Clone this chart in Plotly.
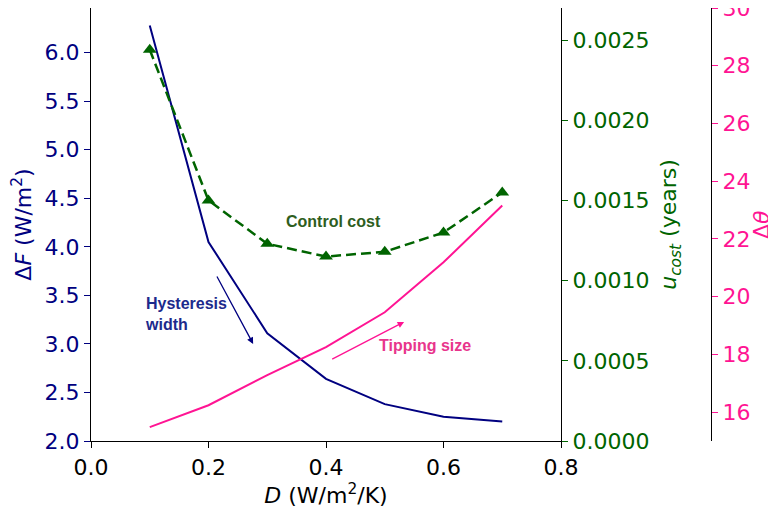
import plotly.graph_objects as go

# coupling strength D (W/m^2/K)
D = [0.1, 0.2, 0.3, 0.4, 0.5, 0.6, 0.7]
# hysteresis width dF (W/m^2)
hysteresis_width = [6.28, 4.05, 3.11, 2.64, 2.38, 2.25, 2.20]
# control cost u_cost (years)
control_cost = [0.00244, 0.00150, 0.00123, 0.00115, 0.00118, 0.00130, 0.00155]
# tipping size dtheta
tipping_size = [15.48, 16.24, 17.28, 18.25, 19.46, 21.19, 23.16]

NAVY = "#000080"
GREEN = "#006400"
PINK = "#ff1493"
FONT = "DejaVu Sans"
FS = 22

# page body has an 8px margin, so the figure is drawn 8px in from the corner
W, H = 768, 503
left, right_main, right_pink = 83, 553, 703
top, bottom = 0, 433
dom_end = (right_main - left) / (right_pink - left)

fig = go.Figure()
fig.add_trace(go.Scatter(x=D, y=hysteresis_width, mode="lines",
                         line=dict(color=NAVY, width=2), yaxis="y"))
fig.add_trace(go.Scatter(x=D, y=control_cost, mode="lines+markers",
                         line=dict(color=GREEN, width=2.5, dash="10px,5px"),
                         marker=dict(symbol="triangle-up", size=12, color=GREEN),
                         yaxis="y2"))
fig.add_trace(go.Scatter(x=D, y=tipping_size, mode="lines",
                         line=dict(color=PINK, width=2), yaxis="y3"))

tick = dict(ticks="outside", ticklen=6, tickwidth=1.3, showgrid=False,
            zeroline=False, showline=True, linewidth=1.3, automargin=False,
            ticklabeloverflow="allow")

fig.update_layout(
    width=W, height=H,
    margin=dict(l=left, r=W - right_pink, t=top, b=H - bottom, pad=0),
    plot_bgcolor="white", paper_bgcolor="white",
    showlegend=False,
    font=dict(family=FONT, size=FS, color="black"),
    xaxis=dict(domain=[0, dom_end], range=[0, 0.8], dtick=0.2, tickformat=".1f",
               mirror=True, linecolor="black", tickcolor="black",
               title=dict(text="<i>D</i> (W/m<sup>2</sup>/K)", standoff=8,
                          font=dict(size=FS)),
               **tick),
    yaxis=dict(range=[2.0, 6.46], dtick=0.5, tickformat=".1f",
               linecolor="black", tickcolor=NAVY,
               tickfont=dict(color=NAVY, size=FS),
               title=dict(text="Δ<i>F</i> (W/m<sup>2</sup>)", standoff=8,
                          font=dict(color=NAVY, size=FS)),
               **tick),
    yaxis2=dict(overlaying="y", side="right", anchor="x",
                range=[0, 0.0027], dtick=0.0005, tickformat=".4f",
                linecolor="black", tickcolor=GREEN,
                tickfont=dict(color=GREEN, size=FS),
                title=dict(text="<i>u<sub>cost</sub></i> (years)", standoff=12,
                           font=dict(color=GREEN, size=FS)),
                **tick),
    yaxis3=dict(overlaying="y", side="right", anchor="free", position=1.0,
                range=[15, 30], tickvals=[16, 18, 20, 22, 24, 26, 28, 30],
                linecolor="black", tickcolor=PINK,
                tickfont=dict(color=PINK, size=FS),
                **tick),
)

# title of the outer (pink) axis
fig.add_annotation(x=1.105, y=0.5, xref="paper", yref="paper", textangle=-90,
                   text="Δ<i>θ</i>", showarrow=False,
                   font=dict(family=FONT, size=FS, color=PINK))

ann_font = "Liberation Sans"
fig.add_annotation(x=0.412, y=4.26, xref="x", yref="y", text="<b>Control cost</b>",
                   showarrow=False, font=dict(family=ann_font, size=16, color="#2e5e1e"))
fig.add_annotation(x=0.088, y=3.31, xref="x", yref="y", xanchor="left",
                   text="<b>Hysteresis<br>width</b>", align="left",
                   showarrow=False, font=dict(family=ann_font, size=16, color="#1c2a8c"))
fig.add_annotation(x=0.569, y=2.98, xref="x", yref="y", text="<b>Tipping size</b>",
                   showarrow=False, font=dict(family=ann_font, size=16, color="#e8358c"))

# arrows
fig.add_annotation(x=0.276, y=3.0, ax=0.213, ay=3.71, xref="x", yref="y",
                   axref="x", ayref="y", text="", showarrow=True,
                   arrowhead=2, arrowsize=1, arrowwidth=1.3, arrowcolor=NAVY)
fig.add_annotation(x=0.533, y=3.227, ax=0.408, ay=2.835, xref="x", yref="y",
                   axref="x", ayref="y", text="", showarrow=True,
                   arrowhead=2, arrowsize=1, arrowwidth=1.3, arrowcolor=PINK)

fig.write_html("out.html")
